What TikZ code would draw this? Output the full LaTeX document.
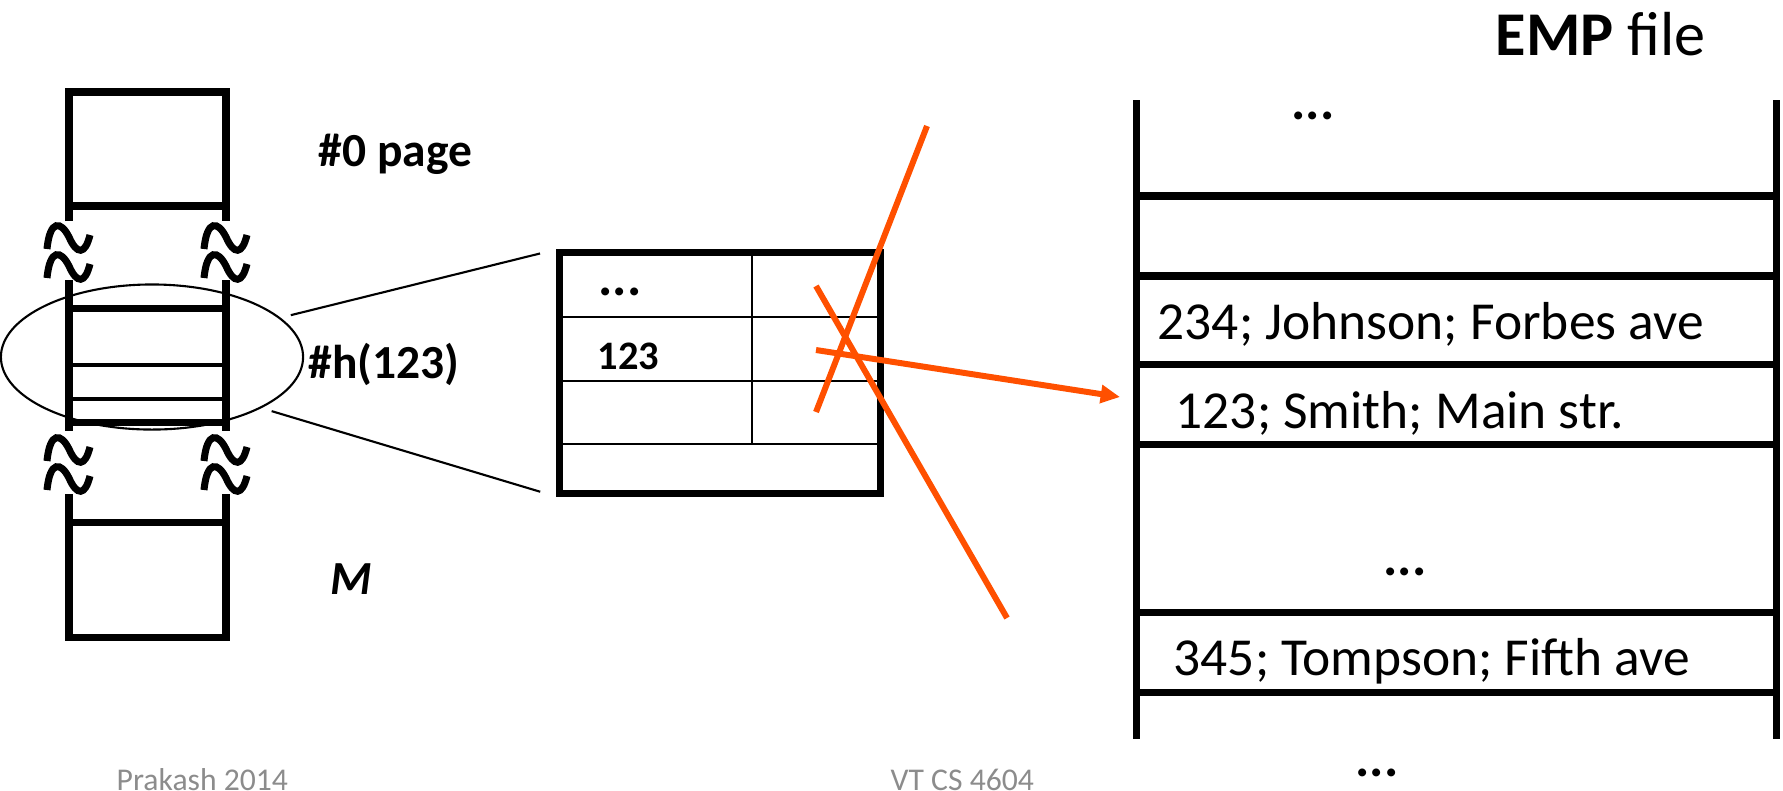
\documentclass[tikz,border=0pt]{standalone}
\usepackage{fontspec}
\setmainfont{Carlito}
\usetikzlibrary{arrows.meta, positioning, calc, shapes.geometric}
\definecolor{cInk}{HTML}{000000}
\definecolor{cOrange}{HTML}{FF5000}
\definecolor{cFoot}{HTML}{8C8C8C}
\tikzset{
  >={Triangle[length=5.5pt,width=5pt]},
  colline/.style={draw=cInk, line width=2pt},
  slotline/.style={draw=cInk, line width=0.9pt},
  cellline/.style={draw=cInk, line width=0.8pt},
  fileline/.style={draw=cInk, line width=2pt},
  link/.style={draw=cInk, line width=0.6pt, shorten <=3pt, shorten >=4.8pt},
  strike/.style={draw=cOrange, line width=1.7pt},
  lbl/.style={inner sep=0pt, anchor=base west, text=cInk,
      font=\bfseries\fontsize{13.5}{16}\selectfont},
  rec/.style={inner sep=0pt, anchor=base west, text=cInk,
      font=\fontsize{15.2}{18}\selectfont},
  dots/.style={inner sep=0pt, text=cInk, font=\bfseries\fontsize{15.2}{18}\selectfont},
  foot/.style={inner sep=0pt, anchor=base west, text=cFoot,
      font=\fontsize{9}{11}\selectfont},
  wave/.pic={
    \draw[line width=2pt] (-22,28) .. controls (-19,-2) and (-8,0) .. (0,16)
                                   .. controls (8,34) and (16,34) .. (21,14);
    \draw[line width=2pt] (-22,57) .. controls (-19,27) and (-8,29) .. (0,45)
                                   .. controls (8,63) and (16,63) .. (21,43);
  },
}

\begin{document}
\begin{tikzpicture}[x=0.01cm, y=-0.01cm]
\clip (0,0) rectangle (1783,790);

% ===================== hash table column =====================
\draw[colline] (69,221) -- (69,92) -- (226,92) -- (226,221);
\draw[colline] (69,206) -- (226,206);
\draw[colline] (69,280) -- (69,431);
\draw[colline] (226,280) -- (226,431);
\draw[colline] (69,308) -- (226,308);
\draw[colline] (69,422) -- (226,422);
\draw[slotline] (69,365) -- (226,365);
\draw[slotline] (69,399) -- (226,399);
\draw[colline] (69,494) -- (69,637) -- (226,637) -- (226,494);
\draw[colline] (69,522) -- (226,522);
\pic at (69,221) {wave};
\pic at (226,221) {wave};
\pic at (69,433) {wave};
\pic at (226,433) {wave};

\node[draw=cInk, ellipse, line width=0.6pt, minimum width=3.02cm,
      minimum height=1.45cm, inner sep=0pt] (hslot) at (152,357) {};

\node[lbl] (page0) at (318,166) {\#0 page};
\node[lbl] (hval) at (308,378) {\#h(123)};
\node[lbl, font=\bfseries\itshape\fontsize{13.5}{16}\selectfont] (mlast) at (330,594) {M};

% ===================== bucket page =====================
\node[draw=cInk, line width=2pt, minimum width=3.2cm, minimum height=2.4cm,
      inner sep=0pt] (bucket) at (720,373) {};
\draw[cellline] (752,253) -- (752,444);
\foreach \y in {317,381,444}
  \draw[cellline] (560,\y) -- (880,\y);
\node[dots] (bdots) at (620,292) {...};
\node[inner sep=0pt, anchor=base west, font=\bfseries\fontsize{11.5}{14}\selectfont] (bkey) at (597,369) {123};

\draw[link] (hslot.17) -- (bucket.north west);
\draw[link] (hslot.-25) -- (bucket.south west);

% ===================== pointer (struck out) =====================
\coordinate (cell1) at (816,286);
\coordinate (cell2) at (816,350);
\coordinate (cell3) at (816,412);
\coordinate (crossA) at (927,126);
\coordinate (crossB) at (1007,618);
\coordinate (tip) at (1120,397);
\draw[strike] (crossA) -- (cell3);
\draw[strike] (cell1) -- (crossB);
\draw[strike, ->] (cell2) -- (tip);

% ===================== EMP file =====================
\draw[fileline] (1136,100) -- (1136,739);
\draw[fileline] (1776,100) -- (1776,739);
\foreach \y in {196,276,364,444,612,692}
  \draw[fileline] (1136,\y) -- (1776,\y);

\node[rec, font=\bfseries\fontsize{17.7}{21}\selectfont] (title) at (1495,55)
     {EMP\mdseries\ file};
\node[dots] (fdots1) at (1313,116) {...};
\node[rec] (rjohnson) at (1157,339) {234; Johnson; Forbes ave};
\node[rec] (rsmith) at (1175,428) {123; Smith; Main str.};
\node[dots] (fdots2) at (1405,572) {...};
\node[rec] (rtompson) at (1173,675) {345; Tompson; Fifth ave};
\node[dots] (fdots3) at (1377,773) {...};

% ===================== footer =====================
\node[foot] (fleft) at (116,790) {Prakash 2014};
\node[foot] (fmid) at (890,790) {VT CS 4604};

\end{tikzpicture}
\end{document}
